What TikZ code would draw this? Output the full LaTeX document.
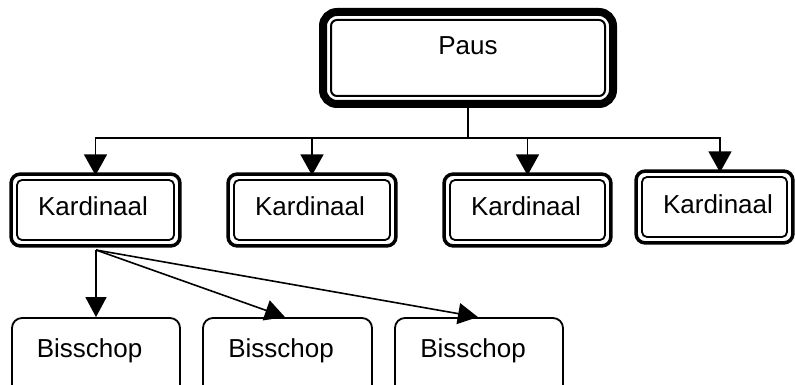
\documentclass[tikz,border=0pt]{standalone}
\usepackage{fontspec}
\setmainfont{Liberation Sans}
\usetikzlibrary{arrows.meta,fit}
\begin{document}
\begin{tikzpicture}[x=1pt,y=-1pt,
  txt/.style={anchor=base,inner sep=0pt,font=\fontsize{26}{30}\selectfont},
  kin/.style={draw,line width=1.8pt,rounded corners=5pt,inner sep=0pt,minimum height=60pt},
  kout/.style={draw,line width=3.5pt,rounded corners=9pt,inner sep=5pt},
  pin/.style={draw,line width=2pt,rounded corners=6pt,inner sep=0pt},
  pout/.style={draw,line width=8pt,rounded corners=14pt,inner sep=7pt},
  bbox/.style={draw,line width=1.8pt,rounded corners=10pt,inner sep=0pt,minimum height=82pt},
  conn/.style={line width=1.6pt},
  karr/.style={conn,-{Triangle[width=23pt,length=21pt]}},
  barr/.style={conn,-{Triangle[width=21pt,length=20pt]}}]
\useasboundingbox (0,0) rectangle (795,385);
\clip (0,0) rectangle (795,385);
% Paus
\node[pin,minimum width=274pt,minimum height=76pt] (paus) at (468,58) {};
\node[pout,fit=(paus)] (pauso) {};
\node[txt] at (468,55) {Paus};
% Kardinalen
\node[kin,minimum width=157pt] (k1) at (95.5,210) {};
\node[kin,minimum width=156pt] (k2) at (312,210) {};
\node[kin,minimum width=155pt] (k3) at (527.5,210) {};
\node[kin,minimum width=145pt] (k4) at (714.5,207) {};
\node[kout,fit=(k1)] (k1o) {};
\node[kout,fit=(k2)] (k2o) {};
\node[kout,fit=(k3)] (k3o) {};
\node[kout,fit=(k4)] (k4o) {};
\node[txt] at (93,215) {Kardinaal};
\node[txt] at (310,215) {Kardinaal};
\node[txt] at (526,215) {Kardinaal};
\node[txt] at (718,213) {Kardinaal};
% Bisschoppen
\node[bbox,minimum width=168pt] (b1) at (96,359) {};
\node[bbox,minimum width=169pt] (b2) at (287.5,359) {};
\node[bbox,minimum width=168pt] (b3) at (479,359) {};
\node[txt] at (89.5,357) {Bisschop};
\node[txt] at (281,357) {Bisschop};
\node[txt] at (473,357) {Bisschop};
% connectors
\coordinate (hub) at (468,138);
\draw[conn] (pauso.south) -- (hub);
\draw[karr] (hub) -| ([yshift=-3pt]k1o.north);
\draw[karr] (hub) -| ([yshift=-3pt]k2o.north);
\draw[karr] (hub) -| ([yshift=-3pt]k3o.north);
\draw[karr] (hub) -| ([xshift=5.5pt,yshift=-3pt]k4o.north);
\coordinate (src) at (96,250);
\draw[barr] (src) -- (b1.north);
\draw[barr] (src) -- ([xshift=-2.5pt]b2.north);
\draw[barr] (src) -- ([xshift=-1pt]b3.north);
\end{tikzpicture}
\end{document}
